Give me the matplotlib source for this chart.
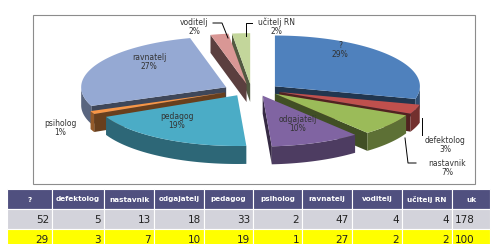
import numpy as np
import matplotlib
matplotlib.use('Agg')
import matplotlib.pyplot as plt
from matplotlib.patches import Polygon, Rectangle
from matplotlib.colors import to_rgb

# podaci iz tablice
categories = ['?', 'defektolog', 'nastavnik', 'odgajatelj', 'pedagog', 'psiholog',
              'ravnatelj', 'voditelj', 'učitelj RN']
counts = [52, 5, 13, 18, 33, 2, 47, 4, 4]
percents = [29, 3, 7, 10, 19, 1, 27, 2, 2]
total_label = 'uk'
total_count = 178
total_pct = 100

colors = ['#4F81BD', '#C0504D', '#9BBB59', '#8064A2', '#4BACC6', '#F79646',
          '#95A9D3', '#D99795', '#C3D69B']

# pozicije oznaka (piksel koordinate), layout
label_pos = {
    '?': (340, 50), 'defektolog': (445, 145), 'nastavnik': (447, 168),
    'odgajatelj': (298, 124), 'pedagog': (177, 121), 'psiholog': (60, 128),
    'ravnatelj': (149, 62), 'voditelj': (194, 27), 'učitelj RN': (276, 27),
}

W, H = 496, 244
fig = plt.figure(figsize=(W / 100, H / 100), dpi=100)
ax = fig.add_axes([0, 0, 1, 1])
ax.set_xlim(0, W)
ax.set_ylim(H, 0)
ax.axis('off')

# okvir grafikona
ax.add_patch(Rectangle((33, 15), 442, 169, fill=False, edgecolor='#8C8C8C', lw=0.8))

# pseudo 3D pita
cx, cy, R, tilt, depth = 252, 90, 145, 0.35, 18
explode_x, explode_y = 0.2, 0.12


def pt(x, y, dz=0.0):
    return (cx + R * x, cy - R * tilt * y + dz)


def darker(c, f):
    r, g, b = to_rgb(c)
    return (r * f, g * f, b * f)


slices = []
start = 90.0
for name, p, col in zip(categories, percents, colors):
    t2 = start
    t1 = start - p * 3.6
    start = t1
    slices.append((name, t1, t2, col))

# crtanje od straznjih prema prednjima
slices.sort(key=lambda s: -np.sin(np.radians((s[1] + s[2]) / 2)))

for name, t1, t2, col in slices:
    mid = np.radians((t1 + t2) / 2)
    ox, oy = explode_x * np.cos(mid), explode_y * np.sin(mid)
    th = np.radians(np.linspace(t1, t2, 80))
    ax_ = ox + np.cos(th)
    ay_ = oy + np.sin(th)

    # radijalne stranice
    for t, nrm in ((t1, t1 - 90), (t2, t2 + 90)):
        if np.sin(np.radians(nrm)) < 0:
            ex, ey = ox + np.cos(np.radians(t)), oy + np.sin(np.radians(t))
            quad = [pt(ox, oy), pt(ex, ey), pt(ex, ey, depth), pt(ox, oy, depth)]
            ax.add_patch(Polygon(quad, closed=True, facecolor=darker(col, 0.42),
                                 edgecolor='none'))

    # vanjska stranica
    front = np.sin(th) < 0
    if front.sum() > 1:
        fx, fy = ax_[front], ay_[front]
        upper = [pt(x, y) for x, y in zip(fx, fy)]
        lower = [pt(x, y, depth) for x, y in zip(fx[::-1], fy[::-1])]
        ax.add_patch(Polygon(upper + lower, closed=True, facecolor=darker(col, 0.6),
                             edgecolor='none'))

    # gornja ploha
    top = [pt(ox, oy)] + [pt(x, y) for x, y in zip(ax_, ay_)]
    ax.add_patch(Polygon(top, closed=True, facecolor=col, edgecolor='none'))

# oznake
for name, p in zip(categories, percents):
    x, y = label_pos[name]
    ax.text(x, y, f'{name}\n{p}%', ha='center', va='center', fontsize=5.5,
            color='#333333', linespacing=1.05, family='DejaVu Sans')

# linije do vanjskih oznaka
ax.plot([213, 222, 228], [23, 23, 38], color='black', lw=0.7)
ax.plot([252, 246, 246], [23, 23, 36], color='black', lw=0.7)
ax.plot([422, 422], [118, 135], color='black', lw=0.7)
ax.plot([405, 408, 416], [138, 163, 163], color='black', lw=0.7)

# tablica
col_edges = [7, 52, 104, 154, 204, 253, 302, 352, 402, 452, 490]
header_y, row_h = 189, 20
header = categories + [total_label]
row_counts = counts + [total_count]
row_pcts = percents + [total_pct]

for i, txt in enumerate(header):
    x0, x1 = col_edges[i], col_edges[i + 1]
    ax.add_patch(Rectangle((x0, header_y), x1 - x0, row_h, facecolor='#50507F',
                           edgecolor='white', lw=0.8))
    ax.text((x0 + x1) / 2, header_y + row_h / 2 + 0.5, txt, ha='center', va='center',
            fontsize=5.2, color='white', fontweight='bold')

for r, (vals, bg) in enumerate(((row_counts, '#D3D3DB'), (row_pcts, '#FFFF00'))):
    y0 = header_y + row_h * (r + 1)
    for i, v in enumerate(vals):
        x0, x1 = col_edges[i], col_edges[i + 1]
        ax.add_patch(Rectangle((x0, y0), x1 - x0, row_h, facecolor=bg,
                               edgecolor='white', lw=0.8))
        if i == len(vals) - 1:
            ax.text(x0 + 3, y0 + row_h / 2 + 1, str(v), ha='left', va='center',
                    fontsize=7.5, color='#222222')
        else:
            ax.text(x1 - 3, y0 + row_h / 2 + 1, str(v), ha='right', va='center',
                    fontsize=7.5, color='#222222')

fig.savefig('out.png', dpi=100)
